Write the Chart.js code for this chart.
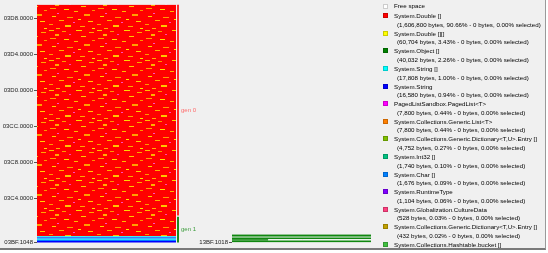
<!DOCTYPE html>
<html><head><meta charset="utf-8">
<script src="https://cdn.jsdelivr.net/npm/chart.js@4.4.1/dist/chart.umd.min.js"></script>
<style>
html,body{margin:0;padding:0;background:#fff;width:548px;height:253px;overflow:hidden;font-family:"Liberation Sans",Arial,sans-serif;}
#frame{position:absolute;left:0;top:0;width:545px;height:248px;background:#f0f0f0;border-right:1px solid #9a9a9a;border-bottom:2px solid #7a7a7a;}
#c1{position:absolute;left:0;top:0;}
#c2{position:absolute;left:195px;top:225px;}
#legend{position:absolute;left:0;top:0;width:545px;height:248px;overflow:hidden;}
.sw{position:absolute;width:5px;height:5px;box-sizing:border-box;border:0.5px solid rgba(0,0,0,0.2);}
.t{position:absolute;font-size:6.2px;line-height:7px;color:#000;white-space:nowrap;}
</style></head><body>
<div id="frame"></div>
<canvas id="c1" width="204" height="253"></canvas>
<canvas id="c2" width="180" height="25"></canvas>
<div id="legend"></div>
<script>
// ---------- data ----------
const tickAddresses = [0x03BF1048, 0x03C40000, 0x03C80000, 0x03CC0000, 0x03D00000, 0x03D40000, 0x03D80000];
const axisMin = 0x03BEF200;
const axisMax = 0x03D98E00;
const heapStart = 0x03BF1048;
const heapEnd = 0x03D98E00;

const genNames = ['gen 0', 'gen 1'];
const genLow = [0x03C21000, 0x03BF1048];
const genHigh = [0x03D98E00, 0x03C1F000];

// low-address band of mixed small objects (bottom of gen 1), bytes each
const bandTypes = ['System.String', 'System.Char []', 'System.String []', 'System.String', 'System.String []'];
const bandBytes = [10000, 9000, 10000, 6500, 9500];

const legendNames = ['Free space', 'System.Double []', 'System.Double [][]', 'System.Object []', 'System.String []',
  'System.String', 'PagedListSandbox.PagedList<T>', 'System.Collections.Generic.List<T>',
  'System.Collections.Generic.Dictionary<T,U>.Entry []', 'System.Int32 []', 'System.Char []',
  'System.RuntimeType', 'System.Globalization.CultureData',
  'System.Collections.Generic.Dictionary<T,U>.Entry []', 'System.Collections.Hashtable.bucket []'];
const legendBytes = [null, 1606800, 60704, 40032, 17808, 16580, 7800, 7800, 4752, 1740, 1676, 1104, 528, 432, null];
const legendPct = [null, 90.66, 3.43, 2.26, 1.00, 0.94, 0.44, 0.44, 0.27, 0.10, 0.09, 0.06, 0.03, 0.02, null];
const legendColors = ['#ffffff', '#ff0000', '#ffff00', '#008000', '#00ffff', '#0000ff', '#ff00ff', '#ff8000',
  '#80c000', '#00c080', '#0080ff', '#8000ff', '#ff4080', '#c0a000', '#40c040'];

// second heap (large objects)
const lohStart = 0x13BF1018;
const lohSpan = 33200;
const lohSegType = ['System.Object []', 'System.Object []', 'Free space', 'Free space', 'System.Object []', 'Free space', 'System.Object []'];
const lohSegLow  = [0,    7800,  7800, 7800,  13100, 20000, 23000];
const lohSegHigh = [7800, 13100, 13100, 13100, 20000, 23000, 33200];
const lohSegFrom = [0,    0,     0.26, 0.51,  0,     0,     0];
const lohSegTo   = [1,    0.26,  0.51, 1,     1,     1,     1];

// ---------- styles ----------
const tileW = 48, tileH = 30;
const speckles = [
  [1,0,5,1,'#ffc000'],[14,1,4,1,'#ff9800'],[28,0,6,1,'#ffd800'],[41,2,5,1,'#ffa800'],
  [7,4,4,2,'#ffb000'],[21,4,2,1,'#ff40b0'],[33,6,5,1,'#ffc800'],
  [2,8,6,1,'#ffa000'],[16,9,5,1,'#ffe000'],[44,10,3,1,'#ff9000'],
  [26,11,4,1,'#ffb800'],[9,13,2,1,'#ff50c0'],[36,14,6,2,'#ffa000'],
  [4,16,4,1,'#ffd000'],[19,17,6,1,'#ff9c00'],[30,19,3,1,'#ffe800'],
  [11,20,5,1,'#ffb000'],[40,21,5,1,'#ffd000'],[25,22,2,1,'#ff48c0'],
  [1,24,4,1,'#ff9800'],[17,25,6,2,'#ffc400'],[32,26,5,1,'#ffa400'],[44,28,3,1,'#ffe000'],[8,28,4,1,'#ffb000']
];
const colorOf = name => legendColors[legendNames.indexOf(name)];
const genColors = ['#ff2a2a', '#1f8a1f'];
const genLabelColors = ['#ff6a6a', '#3c9c3c'];
const lohColors = {'System.Object []': '#0f870f', 'Free space': '#ffffff'};

const hex = v => (Math.floor(v / 65536)).toString(16).toUpperCase().padStart(4, '0') + '.' +
  (v % 65536).toString(16).toUpperCase().padStart(4, '0');

const ctx1 = document.getElementById('c1').getContext('2d');
const tile = document.createElement('canvas'); tile.width = tileW; tile.height = tileH;
const tg = tile.getContext('2d');
tg.fillStyle = '#ff0000'; tg.fillRect(0, 0, tileW, tileH);
for (const [x, y, w, h, c] of speckles) { tg.fillStyle = c; tg.fillRect(x, y, w, h); }
const redPattern = ctx1.createPattern(tile, 'repeat');

const rect = (x0, x1, lo, hi, color) => ({
  type: 'line', data: [{x: x0, y: hi}, {x: x1, y: hi}], fill: {value: lo},
  backgroundColor: color, borderColor: 'rgba(0,0,0,0)', borderWidth: 0, pointRadius: 0, tension: 0
});

// ---------- main heap chart ----------
const ds1 = [];
let lo = heapStart;
bandTypes.forEach((t, i) => { const hi = lo + bandBytes[i]; ds1.push(rect(0, 1, lo, hi, colorOf(t))); lo = hi; });
ds1.push(rect(0, 1, lo, heapEnd, redPattern));
const genX = 1.0144;
genNames.forEach((g, i) => ds1.push({
  type: 'line', data: [{x: genX, y: genHigh[i]}, {x: genX, y: genLow[i]}], fill: false,
  borderColor: genColors[i], borderWidth: 2, pointRadius: 0
}));
const genMid = genNames.map((g, i) => (genLow[i] + genHigh[i]) / 2);

const tickFont = {family: '"Liberation Sans", Arial, sans-serif', size: 6};
new Chart(ctx1, {
  type: 'line',
  data: {datasets: ds1},
  options: {
    responsive: false, animation: false, events: [],
    layout: {padding: {top: 3, bottom: 9.5, left: 0, right: 0}},
    plugins: {legend: {display: false}, tooltip: {enabled: false}},
    scales: {
      x: {type: 'linear', min: 0, max: 1.0288, display: false},
      y: {
        type: 'linear', min: axisMin, max: axisMax, position: 'left',
        afterBuildTicks: s => { s.ticks = tickAddresses.map(v => ({value: v})); },
        afterFit: s => { s.width = 37; },
        ticks: {callback: v => hex(v), font: tickFont, color: '#222', padding: 1, autoSkip: false},
        grid: {drawOnChartArea: false, drawTicks: true, tickLength: 3, color: '#555'},
        border: {display: false}
      },
      y2: {
        type: 'linear', min: axisMin, max: axisMax, position: 'right',
        afterBuildTicks: s => { s.ticks = genMid.map(v => ({value: v})); },
        afterFit: s => { s.width = 24; },
        ticks: {callback: (v, i) => genNames[i], font: tickFont, color: c => genLabelColors[c.index], padding: 1, autoSkip: false},
        grid: {display: false, drawTicks: false},
        border: {display: false}
      }
    }
  }
});

// ---------- large object heap chart ----------
const ds2 = lohSegType.map((t, i) => rect(lohSegFrom[i], lohSegTo[i], lohStart + lohSegLow[i], lohStart + lohSegHigh[i], lohColors[t]));
new Chart(document.getElementById('c2'), {
  type: 'line',
  data: {datasets: ds2},
  options: {
    responsive: false, animation: false, events: [],
    layout: {padding: {top: 9.3, bottom: 7.6, left: 0, right: 4}},
    plugins: {legend: {display: false}, tooltip: {enabled: false}},
    scales: {
      x: {type: 'linear', min: 0, max: 1, display: false},
      y: {
        type: 'linear', min: lohStart, max: lohStart + lohSpan,
        afterBuildTicks: s => { s.ticks = [{value: lohStart}]; },
        afterFit: s => { s.width = 37; },
        ticks: {callback: v => hex(v), font: tickFont, color: '#222', padding: 1, autoSkip: false},
        grid: {drawOnChartArea: false, drawTicks: true, tickLength: 3, color: '#555'},
        border: {display: false}
      }
    }
  }
});

// ---------- legend ----------
const leg = document.getElementById('legend');
legendNames.forEach((name, i) => {
  const cy = i === 0 ? 6 : 15.7 + (i - 1) * 17.6;
  const sw = document.createElement('div'); sw.className = 'sw';
  sw.style.left = '383px'; sw.style.top = (cy - 2.5) + 'px'; sw.style.background = legendColors[i];
  leg.appendChild(sw);
  const t = document.createElement('div'); t.className = 't';
  t.style.left = '394px'; t.style.top = (cy - 3.6) + 'px'; t.textContent = name;
  leg.appendChild(t);
  if (legendBytes[i] !== null) {
    const d = document.createElement('div'); d.className = 't';
    d.style.left = '397px'; d.style.top = (cy + 8.6 - 3.6) + 'px';
    d.textContent = '(' + legendBytes[i].toLocaleString('en-US') + ' bytes, ' + legendPct[i].toFixed(2) + '% - 0 bytes, 0.00% selected)';
    leg.appendChild(d);
  }
});
</script>
</body></html>
